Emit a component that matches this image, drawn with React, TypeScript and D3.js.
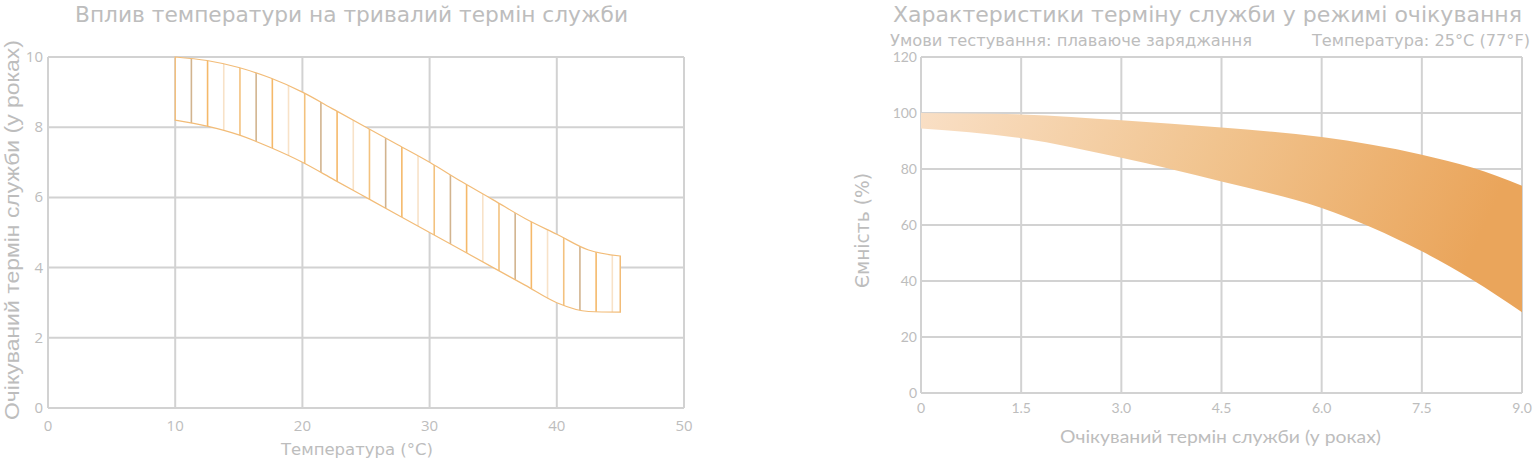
import React from "react";
import * as d3 from "d3";

// ---- Left chart data ----
const leftTitle = "Вплив температури на тривалий термін служби";
const leftXLabel = "Температура (°C)";
const leftYLabel = "Очікуваний термін служби (у роках)";
const leftXTicks = [0, 10, 20, 30, 40, 50];
const leftYTicks = [0, 2, 4, 6, 8, 10];
const tempX = [10, 12.5, 15, 17.5, 20, 22.5, 25, 27.5, 30, 32.5, 35, 37.5, 40, 42.5, 45];
const lifeUpper = [10, 9.9, 9.7, 9.4, 9.0, 8.5, 8.0, 7.5, 7.0, 6.45, 5.93, 5.4, 4.95, 4.5, 4.33];
const lifeLower = [8.2, 8.03, 7.78, 7.42, 7.0, 6.5, 6.0, 5.5, 5.0, 4.5, 4.0, 3.5, 3.0, 2.75, 2.73];

// ---- Right chart data ----
const rightTitle = "Характеристики терміну служби у режимі очікування";
const rightSub1 = "Умови тестування: плаваюче заряджання";
const rightSub2 = "Температура: 25°C (77°F)";
const rightXLabel = "Очікуваний термін служби (у роках)";
const rightYLabel = "Ємність (%)";
const rightXTicks = [0, 1.5, 3.0, 4.5, 6.0, 7.5, 9.0];
const rightXTickLabels = ["0", "1.5", "3.0", "4.5", "6.0", "7.5", "9.0"];
const rightYTicks = [0, 20, 40, 60, 80, 100, 120];
const yearsX = [0, 1.5, 3.0, 4.5, 6.0, 7.5, 8.25, 9.0];
const capUpper = [100, 99.5, 97.4, 94.8, 91.4, 85.1, 80.5, 74.0];
const capLower = [94.5, 91.0, 84.0, 75.5, 66.1, 50.6, 40.5, 28.8];

const TEXT = "#bdbdbd";
const GRID = "#d2d2d2";
const HATCH_COLORS = ["#f3c27f", "#d2b48f", "#f5b96a", "#f8e2c8"];

export default function App() {
  // left scales
  const lx = d3.scaleLinear().domain([0, 50]).range([48, 684]);
  const ly = d3.scaleLinear().domain([0, 10]).range([408, 57]);
  // right scales
  const rx = d3.scaleLinear().domain([0, 9]).range([921, 1522]);
  const ry = d3.scaleLinear().domain([0, 120]).range([393, 57]);

  const leftPts = tempX.map((t, i) => ({ x: t, u: lifeUpper[i], l: lifeLower[i] }));
  const leftArea = d3
    .area<any>()
    .x((d) => lx(d.x))
    .y0((d) => ly(d.l))
    .y1((d) => ly(d.u))
    .curve(d3.curveMonotoneX);
  const leftAreaPath = leftArea(leftPts) || "";

  const rightPts = yearsX.map((t, i) => ({ x: t, u: capUpper[i], l: capLower[i] }));
  const rightArea = d3
    .area<any>()
    .x((d) => rx(d.x))
    .y0((d) => ry(d.l))
    .y1((d) => ry(d.u))
    .curve(d3.curveMonotoneX);
  const rightAreaPath = rightArea(rightPts) || "";

  // hatch positions (decorative), every ~1.273 °C from 10 to 45
  const hatchStep = 35 / 27.5;
  const hatchXs: number[] = [];
  for (let t = 10; t <= 45.001; t += hatchStep) hatchXs.push(t);
  hatchXs.push(45);

  const fontT = "'DejaVu Sans', Roboto, sans-serif";
  const fontB = "Lato, 'Open Sans', sans-serif";
  const fontN = "'Open Sans', Lato, sans-serif";

  return (
    <svg
      width={1536}
      height={461}
      style={{ position: "absolute", left: 0, top: 0, background: "#fff" }}
    >
      <defs>
        <clipPath id="leftBand">
          <path d={leftAreaPath} />
        </clipPath>
        <linearGradient id="rightGrad" x1="0" y1="0" x2="1" y2="0.15">
          <stop offset="0%" stopColor="#f9dfc5" />
          <stop offset="50%" stopColor="#f1c48f" />
          <stop offset="100%" stopColor="#eaa55b" />
        </linearGradient>
      </defs>

      {/* ---------- LEFT CHART ---------- */}
      <text x={75} y={22} fontFamily={fontT} fontSize={20.5} fill={TEXT} textLength={553} lengthAdjust="spacingAndGlyphs">
        {leftTitle}
      </text>
      {leftXTicks.map((t) => (
        <line key={"lgx" + t} x1={lx(t)} x2={lx(t)} y1={ly(0)} y2={ly(10)} stroke={GRID} strokeWidth={2} />
      ))}
      {leftYTicks.map((t) => (
        <line key={"lgy" + t} x1={lx(0)} x2={lx(50)} y1={ly(t)} y2={ly(t)} stroke={GRID} strokeWidth={2} />
      ))}
      {leftXTicks.map((t) => (
        <text key={"lxt" + t} x={lx(t)} y={431} textAnchor="middle" fontFamily={fontN} fontSize={15} fill={TEXT}>
          {t}
        </text>
      ))}
      {leftYTicks.map((t) => (
        <text key={"lyt" + t} x={43} y={ly(t) + 5} textAnchor="end" fontFamily={fontN} fontSize={15} fill={TEXT}>
          {t}
        </text>
      ))}
      <text x={281} y={455} fontFamily={fontT} fontSize={16} fill={TEXT} textLength={152} lengthAdjust="spacingAndGlyphs">
        {leftXLabel}
      </text>
      <text
        transform={`translate(19, 420) rotate(-90)`}
        fontFamily={"'Liberation Sans', Arial, sans-serif"}
        fontSize={20}
        fill={TEXT}
        textLength={380}
        lengthAdjust="spacingAndGlyphs"
      >
        {leftYLabel}
      </text>
      <path d={leftAreaPath} fill="#fff" />
      <g clipPath="url(#leftBand)">
        {hatchXs.map((t, i) => (
          <line
            key={"h" + i}
            x1={lx(t)}
            x2={lx(t)}
            y1={ly(0)}
            y2={ly(10.5)}
            stroke={HATCH_COLORS[i % HATCH_COLORS.length]}
            strokeWidth={1.6}
          />
        ))}
      </g>
      <path d={leftAreaPath} fill="none" stroke="#f2bc78" strokeWidth={1.2} />

      {/* ---------- RIGHT CHART ---------- */}
      <text x={893} y={22} fontFamily={fontT} fontSize={20.5} fill={TEXT} textLength={629} lengthAdjust="spacingAndGlyphs">
        {rightTitle}
      </text>
      <text x={890} y={46} fontFamily={fontT} fontSize={15.5} fill={TEXT} textLength={362} lengthAdjust="spacingAndGlyphs">
        {rightSub1}
      </text>
      <text x={1312} y={46} fontFamily={fontT} fontSize={15.5} fill={TEXT} textLength={218} lengthAdjust="spacingAndGlyphs">
        {rightSub2}
      </text>
      {rightXTicks.map((t) => (
        <line key={"rgx" + t} x1={rx(t)} x2={rx(t)} y1={ry(0)} y2={ry(120)} stroke={GRID} strokeWidth={2} />
      ))}
      {rightYTicks.map((t) => (
        <line key={"rgy" + t} x1={rx(0)} x2={rx(9)} y1={ry(t)} y2={ry(t)} stroke={GRID} strokeWidth={2} />
      ))}
      <path d={rightAreaPath} fill="url(#rightGrad)" />
      {rightXTicks.map((t, i) => (
        <text key={"rxt" + t} x={rx(t)} y={413} textAnchor="middle" fontFamily={fontB} fontSize={14} fill={TEXT}>
          {rightXTickLabels[i]}
        </text>
      ))}
      {rightYTicks.map((t) => (
        <text key={"ryt" + t} x={917} y={ry(t) + 5} textAnchor="end" fontFamily={fontB} fontSize={14} fill={TEXT}>
          {t}
        </text>
      ))}
      <text x={1060} y={443} fontFamily={fontB} fontSize={17} fill={TEXT} textLength={321} lengthAdjust="spacingAndGlyphs">
        {rightXLabel}
      </text>
      <text
        transform={`translate(869, 288) rotate(-90)`}
        fontFamily={fontT}
        fontSize={19}
        fill={TEXT}
        textLength={115}
        lengthAdjust="spacingAndGlyphs"
      >
        {rightYLabel}
      </text>
    </svg>
  );
}
